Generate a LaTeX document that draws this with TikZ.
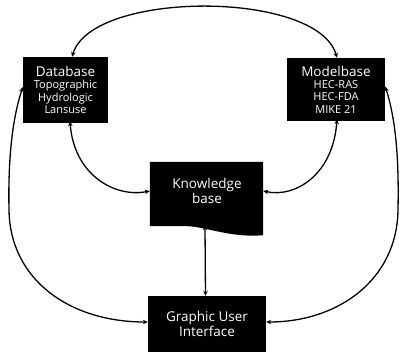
\documentclass[tikz,border=0pt]{standalone}
\usepackage{fontspec}
\setmainfont{Open Sans}
\usetikzlibrary{arrows.meta}
\newcommand{\ttlf}{\fontsize{13.5}{15}\selectfont}
\newcommand{\itmf}{\fontsize{11}{13}\selectfont}
\begin{document}
\begin{tikzpicture}[x=1pt,y=-1pt,
  box/.style={fill=black,text=white,inner sep=0pt,align=center},
  link/.style={line width=1.3pt,{Stealth[length=5pt,width=4.5pt]}-{Stealth[length=5pt,width=4.5pt]}}]
\useasboundingbox (0,0) rectangle (400,353);
% boxes
\node[box,minimum width=85pt,minimum height=66pt] (db) at (65.5,90)
  {\ttlf Database\\[0pt]\itmf Topographic\\[0.5pt]\itmf Hydrologic\\[0.5pt]\itmf Lansuse};
\node[box,minimum width=98pt,minimum height=63pt] (mb) at (336,89.5)
  {\ttlf Modelbase\\[0pt]\itmf HEC-RAS\\[0.5pt]\itmf HEC-FDA\\[0.5pt]\itmf MIKE 21};
\node[box,fill=none,minimum width=113pt,minimum height=64pt] (kb) at (206.5,194) {};
\fill[black] (kb.north west) -- (kb.north east) -- ([yshift=-9pt]kb.south east)
  .. controls ([xshift=-35pt,yshift=-12pt]kb.south east) and ([xshift=-60pt,yshift=1pt]kb.south east)
  .. ([xshift=-80pt]kb.south east) -- (kb.south west) -- cycle;
\node[text=white,align=center,inner sep=0pt] (kbt) at (207,191) {\ttlf Knowledge\\[0pt]\ttlf base};
\node[box,minimum width=118pt,minimum height=56pt] (gui) at (207,324)
  {\ttlf Graphic User\\[1pt]\ttlf Interface};
% connectors
\draw[link] ([xshift=6.5pt]db.north) .. controls (92,-10) and (318,-10) .. ([xshift=1pt]mb.north);
\draw[link] ([xshift=4.5pt,yshift=2pt]db.south) .. controls (74,175) and (115,198) .. ([yshift=3pt]kb.west);
\draw[link] ([xshift=1pt,yshift=2pt]mb.south) .. controls (333,175) and (295,198) .. ([yshift=3pt]kb.east);
\draw[link] ([xshift=-1.5pt,yshift=1pt]kb.south) -- ([xshift=-1.5pt]gui.north);
\draw[link] ([yshift=3pt]db.west) .. controls (12,120) and (8,160) .. (9,210)
  .. controls (10,280) and (70,322) .. ([yshift=2pt]gui.west);
\draw[link] ([yshift=3pt]mb.east) .. controls (396,120) and (399,160) .. (398,210)
  .. controls (397,280) and (338,322) .. ([yshift=2pt]gui.east);
\end{tikzpicture}
\end{document}
